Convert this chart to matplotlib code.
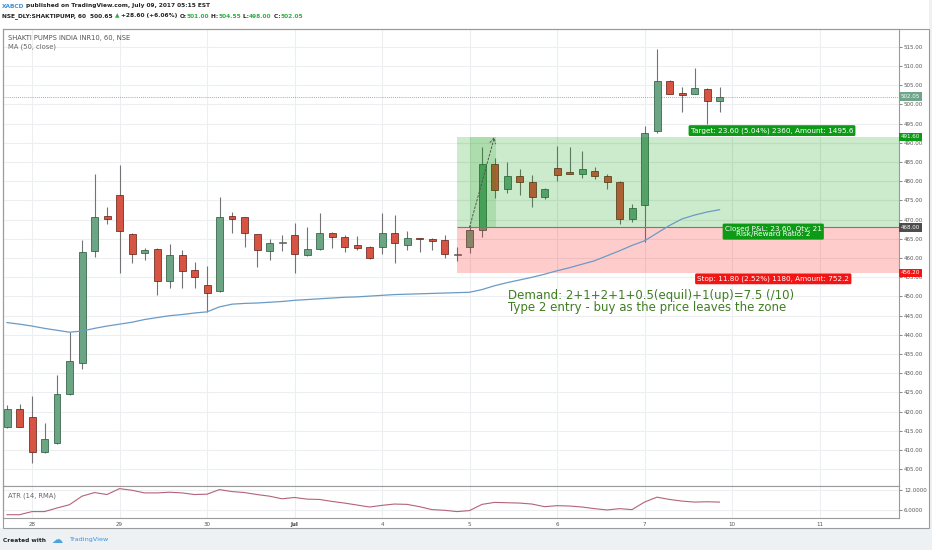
import numpy as np
import matplotlib
matplotlib.use("Agg")
import matplotlib.pyplot as plt
from matplotlib.patches import Rectangle
from matplotlib.transforms import blended_transform_factory

W, H = 932, 550

# ===== 1. Data: NSE SHAKTIPUMP, 60 min bars (27 Jun - 7 Jul 2017) =====
opens = [416.1, 420.6, 418.5, 409.4, 411.9, 424.6, 432.6, 461.9, 471.0, 476.4,
         466.3, 461.2, 462.3, 454.0, 460.8, 456.8, 453.1, 451.5, 471.0, 470.6,
         466.3, 461.8, 463.9, 466.1, 460.7, 462.3, 466.6, 465.5, 463.5, 463.0,
         462.9, 466.6, 463.5, 465.2, 465.0, 464.8, 460.8, 462.8, 467.2, 484.6,
         477.9, 481.5, 479.8, 475.9, 483.4, 482.4, 482.0, 482.6, 481.5, 479.9,
         470.1, 473.9, 493.0, 506.0, 502.9, 502.8, 504.1, 501.0]
highs = [421.7, 422.0, 424.1, 417.1, 429.5, 440.8, 464.8, 481.8, 473.2, 484.3,
         466.5, 462.6, 462.5, 463.8, 462.1, 459.0, 457.9, 475.9, 471.9, 470.8,
         466.4, 465.0, 465.9, 469.1, 468.1, 471.7, 466.8, 465.9, 465.7, 463.1,
         471.7, 471.1, 467.0, 465.3, 465.3, 465.9, 462.9, 468.5, 488.9, 486.0,
         485.0, 483.1, 481.7, 478.2, 489.3, 488.9, 487.8, 483.7, 482.0, 480.2,
         474.1, 494.4, 514.5, 506.5, 504.5, 509.5, 504.2, 504.55]
lows = [415.8, 416.0, 406.7, 409.2, 411.7, 424.4, 431.1, 460.2, 468.8, 456.2,
        458.8, 459.6, 450.5, 452.3, 452.3, 452.3, 446.0, 451.2, 466.6, 462.9,
        457.7, 459.4, 461.8, 456.1, 460.6, 462.2, 462.6, 461.6, 462.0, 459.8,
        461.0, 458.7, 462.2, 461.6, 462.2, 460.1, 459.2, 461.3, 465.4, 475.7,
        477.0, 476.4, 473.3, 475.3, 480.0, 482.0, 480.9, 480.5, 477.9, 468.8,
        469.4, 464.2, 492.5, 502.8, 498.0, 502.7, 495.0, 498.0]
closes = [420.6, 416.1, 409.6, 412.9, 424.6, 433.1, 461.5, 470.6, 470.2, 467.1,
          461.1, 462.1, 454.0, 460.9, 456.7, 455.0, 451.0, 470.6, 470.2, 466.5,
          462.0, 464.0, 463.9, 461.0, 462.3, 466.6, 465.5, 462.9, 462.6, 460.0,
          466.5, 463.9, 465.2, 464.9, 464.5, 461.0, 460.8, 467.2, 484.6, 477.8,
          481.5, 479.7, 475.9, 477.9, 481.7, 482.0, 483.1, 481.3, 479.8, 470.1,
          473.1, 492.6, 506.0, 502.8, 502.6, 504.3, 500.9, 502.05]
ma50 = [443.2, 442.8, 442.3, 441.7, 441.2, 440.7, 441.0, 441.7, 442.3, 442.8,
        443.3, 444.0, 444.5, 445.0, 445.3, 445.7, 446.0, 447.3, 448.0, 448.2,
        448.3, 448.5, 448.7, 449.0, 449.2, 449.4, 449.6, 449.8, 449.9, 450.1,
        450.3, 450.5, 450.6, 450.7, 450.8, 450.9, 451.0, 451.1, 451.8, 452.8,
        453.6, 454.3, 455.0, 455.8, 456.7, 457.5, 458.4, 459.3, 460.6, 461.9,
        463.3, 464.5, 466.5, 468.5, 470.2, 471.2, 472.0, 472.6]
atr14 = [4.55, 4.55, 5.5, 5.5, 6.6, 7.6, 10.2, 11.3, 10.7, 12.5,
         12.0, 11.2, 11.2, 11.4, 11.2, 10.7, 10.8, 12.2, 11.6, 11.3,
         10.7, 10.2, 9.4, 9.8, 9.3, 9.2, 8.6, 8.1, 7.5, 6.9,
         7.4, 7.8, 7.7, 7.0, 6.1, 5.9, 5.5, 5.8, 7.7, 8.3,
         8.2, 8.1, 7.8, 7.0, 7.3, 7.2, 6.9, 6.4, 6.0, 6.4,
         6.1, 8.4, 9.9, 9.2, 8.7, 8.4, 8.5, 8.4]

day_labels = ["28", "29", "30", "Jul", "4", "5", "6", "7", "10", "11"]
bars_per_day = 7
first_day_bar = 2
price_ticks = list(range(405, 520, 5))
atr_ticks = [6, 12]

entry_price = 468.00
target_price = 491.60
stop_price = 456.20
last_price = 502.05
position_bar = 36

# ===== 2. Colours =====
up_col, dn_col = "#6ba583", "#d75442"
up_edge, dn_edge = "#225437", "#5b1a13"
wick_col = "#737375"
grid_col = "#eceef1"
frame_col = "#9b9b9b"
label_col = "#555555"


def px(x, y):
    """pixel (from top-left) -> figure fraction"""
    return x / W, 1 - y / H


fig = plt.figure(figsize=(W / 100, H / 100), dpi=100, facecolor="#eef1f4")
fig.patches.append(Rectangle((0, 1 - 528 / H), 929 / W, 528 / H, transform=fig.transFigure,
                             facecolor="white", edgecolor="none", zorder=-5))

ax = fig.add_axes([3 / W, (H - 486) / H, 896 / W, 457 / H])
ax_atr = fig.add_axes([3 / W, (H - 517.5) / H, 896 / W, 31.5 / H], sharex=ax)

x = np.arange(len(opens))
o, h, l, c = (np.array(v, dtype=float) for v in (opens, highs, lows, closes))
up = c >= o
doji = np.abs(c - o) < 0.15

# ===== 3. Candles =====
ax.vlines(x, l, h, color=wick_col, lw=0.8, zorder=2)
body_col = np.where(doji, "#666666", np.where(up, up_col, dn_col))
body_edge = np.where(doji, "#666666", np.where(up, up_edge, dn_edge))
ax.bar(x, np.maximum(np.abs(c - o), 0.3), bottom=np.minimum(o, c), width=0.56,
       color=body_col, edgecolor=body_edge, linewidth=0.5, zorder=3)

# MA line
ax.plot(x, ma50, color="#6a9bc6", lw=0.9, zorder=6)

# ===== 4. Long position tool =====
x_right = 71.36
ax.add_patch(Rectangle((position_bar, entry_price), x_right - position_bar,
                       target_price - entry_price, facecolor=(0, 0.59, 0), alpha=0.2,
                       lw=0, zorder=4))
ax.add_patch(Rectangle((position_bar, stop_price), x_right - position_bar,
                       entry_price - stop_price, facecolor=(1, 0, 0), alpha=0.2,
                       lw=0, zorder=4))
ax.add_patch(Rectangle((position_bar + 1, entry_price), 2.1, target_price - entry_price,
                       facecolor=(0, 0.59, 0), alpha=0.15, lw=0, zorder=4))
ax.hlines(entry_price, position_bar, x_right, color="#7a7a7a", lw=0.8, zorder=5)
ax.annotate("", xy=(position_bar + 3, target_price), xytext=(position_bar + 1, entry_price),
            arrowprops=dict(arrowstyle="->", linestyle=(0, (2, 2)), color="#555555",
                            lw=0.7, shrinkA=0, shrinkB=0), zorder=6)

box_kw = dict(ha="center", va="center", color="white", fontsize=5.2, zorder=8)
ax.text(61.2, 493.2, "Target: 23.60 (5.04%) 2360, Amount: 1495.6",
        bbox=dict(boxstyle="round,pad=0.3,rounding_size=0.2", fc="#0d9b16", ec="none"), **box_kw)
ax.text(61.3, 466.9, "Closed P&L: 23.60, Qty: 21\nRisk/Reward Ratio: 2", linespacing=0.95,
        bbox=dict(boxstyle="round,pad=0.3,rounding_size=0.2", fc="#0d9b16", ec="none"), **box_kw)
ax.text(61.3, 454.6, "Stop: 11.80 (2.52%) 1180, Amount: 752.2",
        bbox=dict(boxstyle="round,pad=0.3,rounding_size=0.2", fc="#f31414", ec="none"), **box_kw)

# last price line
ax.axhline(last_price, color="#8a8a8a", lw=0.6, ls=(0, (1, 1.5)), zorder=1)

# ===== 5. Axes styling =====
day_ticks = [first_day_bar + bars_per_day * k for k in range(len(day_labels))]
for a in (ax, ax_atr):
    a.set_xlim(-0.32, x_right)
    a.set_xticks(day_ticks)
    a.grid(True, color=grid_col, lw=0.8, zorder=0)
    a.set_axisbelow(True)
    a.yaxis.tick_right()
    a.tick_params(axis="y", labelsize=4, colors=label_col, length=2, width=0.5, pad=1.5)
    for sp in a.spines.values():
        sp.set_color(frame_col)
        sp.set_linewidth(0.8)

ax.set_ylim(400.65, 519.66)
ax.set_yticks(price_ticks)
ax.set_yticklabels([f"{t:.2f}" for t in price_ticks])
ax.tick_params(axis="x", bottom=False, labelbottom=False)

ax_atr.plot(x, atr14, color="#b3627a", lw=0.8)
ax_atr.set_ylim(3.7, 13.3)
ax_atr.set_yticks(atr_ticks)
ax_atr.set_yticklabels([f"{t:.4f}" for t in atr_ticks])
ax_atr.set_xticklabels(day_labels)
ax_atr.tick_params(axis="x", labelsize=4, colors=label_col, length=0, pad=3)
for lab in ax_atr.get_xticklabels():
    if lab.get_text() == "Jul":
        lab.set_color("#333333")
        lab.set_fontweight("bold")

# price-scale value boxes
tr = blended_transform_factory(ax.transAxes, ax.transData)
for val, fc in [(last_price, "#6fa58a"), (target_price, "#0d9b16"),
                (entry_price, "#4d4d4d"), (stop_price, "#f31414")]:
    ax.text(1.0 + 2 / 896, val, f"{val:.2f}", transform=tr, ha="left", va="center",
            fontsize=4, color="white", zorder=9, clip_on=False,
            bbox=dict(boxstyle="square,pad=0.3", fc=fc, ec="none"))

# outer frame
fig.patches.append(Rectangle(px(3, 528), 926 / W, 499 / H, transform=fig.transFigure,
                             facecolor="none", edgecolor=frame_col, lw=0.8, zorder=10))

# ===== 6. Texts =====
renderer = fig.canvas.get_renderer()


def text_row(x_px, y_px, parts, size, weight="normal"):
    xx = x_px
    for s, col in parts:
        t = fig.text(*px(xx, y_px), s, color=col, fontsize=size, fontweight=weight,
                     ha="left", va="center")
        xx += t.get_window_extent(renderer).width


dark = "#222222"
grn = "#2fae44"
text_row(2, 6, [("XABCD", "#3c8fdd"),
                (" published on TradingView.com, July 09, 2017 05:15 EST", dark)], 4.2, "bold")
text_row(2, 16, [("NSE_DLY:SHAKTIPUMP, 60  500.65 ", dark), ("▲", grn),
                 (" +28.60 (+6.06%) ", dark), ("O:", dark), ("501.00", grn),
                 (" H:", dark), ("504.55", grn), (" L:", dark), ("498.00", grn),
                 (" C:", dark), ("502.05", grn)], 4.2, "bold")

fig.text(*px(8, 38), "SHAKTI PUMPS INDIA INR10, 60, NSE", fontsize=4.9, color="#555555", va="center")
fig.text(*px(8, 47), "MA (50, close)", fontsize=4.9, color="#666666", va="center")
fig.text(*px(8, 496), "ATR (14, RMA)", fontsize=4.9, color="#666666", va="center")

fig.text(*px(508, 295), "Demand: 2+1+2+1+0.5(equil)+1(up)=7.5 (/10)", fontsize=8.5,
         color="#3f7d22", va="center")
fig.text(*px(508, 307), "Type 2 entry - buy as the price leaves the zone", fontsize=8.5,
         color="#3f7d22", va="center")

fig.text(*px(3, 540), "Created with", fontsize=4.2, fontweight="bold", color="#222222", va="center")
fig.text(*px(51, 540), "☁", fontsize=8, color="#4aa3df", va="center")
fig.text(*px(69, 540), "TradingView", fontsize=4.6, color="#3c8fdd", va="center")

fig.savefig("out.png", dpi=100, facecolor=fig.get_facecolor())
